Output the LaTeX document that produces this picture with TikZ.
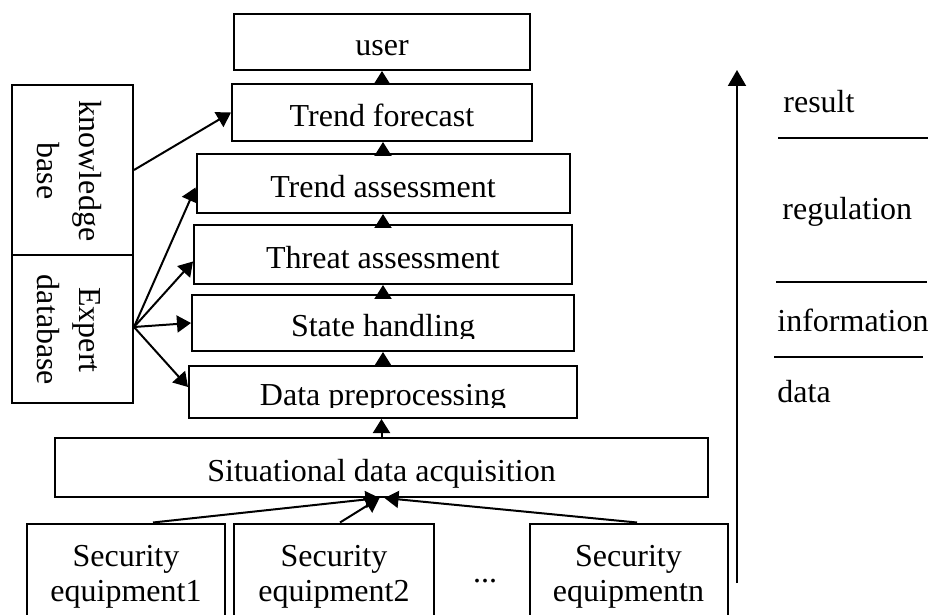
\documentclass[tikz,border=0pt]{standalone}
\usepackage{fontspec}
\setmainfont{Liberation Serif}
\usetikzlibrary{arrows.meta}

\tikzset{
  box/.style={draw, line width=1pt, inner sep=0pt, text height=14pt, text depth=0pt},
  plainbox/.style={draw, line width=1pt, inner sep=0pt},
  lbl/.style={inner sep=0pt, text height=10.6pt, text depth=0pt},
  arr/.style={line width=1pt, -{Triangle[width=8.5pt,length=7pt]}},
  bigarr/.style={line width=1pt, -{Triangle[width=9pt,length=8pt]}},
  sep/.style={line width=1pt},
}

\begin{document}
\begin{tikzpicture}[x=0.5pt, y=-0.5pt, font=\fontsize{16}{17.5}\selectfont]
\clip (0,0) rectangle (928,615);

% processing stack
\node[box, minimum width=148pt,   minimum height=28pt]   (user)     at (382,42)    {user};
\node[box, minimum width=150pt,   minimum height=28.5pt] (forecast) at (382,112.5) {Trend forecast};
\node[box, minimum width=186.5pt, minimum height=29.5pt] (tassess)  at (383,183.5) {Trend assessment};
\node[box, minimum width=189pt,   minimum height=29.5pt] (threat)   at (383,254.5) {Threat assessment};
\node[plainbox, minimum width=191pt, minimum height=28pt] (state)   at (383,323)   {};
\node[plainbox, minimum width=194pt, minimum height=26pt] (prep)    at (383,392)   {};
\node[box, minimum width=326.5pt, minimum height=29.5pt] (acq)      at (381.5,467.5) {Situational data acquisition};

% labels of the two lower stages, cut off at the baseline
\begin{scope}
  \clip (190,300) rectangle (576,338.5);
  \node[lbl] (statetxt) at (383,326) {State handling};
\end{scope}
\begin{scope}
  \clip (190,370) rectangle (576,407.5);
  \node[lbl] (preptxt) at (383,395) {Data preprocessing};
\end{scope}

% knowledge sources
\node[plainbox, minimum width=60.5pt, minimum height=85pt] (kb) at (72.5,170) {};
\node[plainbox, minimum width=60.5pt, minimum height=74pt] (ed) at (72.5,329) {};
\node[rotate=-90, align=center, font=\fontsize{16}{21}\selectfont] (kbtxt) at (69,171) {knowledge\\base};
\node[rotate=-90, align=center, font=\fontsize{16}{21}\selectfont] (edtxt) at (69,330) {Expert\\database};

% security equipment
\node[plainbox, minimum width=99pt,  minimum height=53pt, align=center] (sec1) at (126,576.5)   {Security\\equipment1};
\node[plainbox, minimum width=100pt, minimum height=53pt, align=center] (sec2) at (334,576.5)   {Security\\equipment2};
\node[plainbox, minimum width=99pt,  minimum height=53pt, align=center] (secn) at (628.5,576.5) {Security\\equipmentn};
\node[anchor=base, inner sep=0pt] (dots) at (485,582) {...};

% upward flow through the stack
\draw[arr] (forecast.north) -- (forecast.north |- user.south);
\draw[arr] (tassess.north)  -- (tassess.north |- forecast.south);
\draw[arr] (threat.north)   -- (threat.north |- tassess.south);
\draw[arr] (state.north)    -- (state.north |- threat.south);
\draw[arr] (prep.north)     -- (prep.north |- state.south);
\draw[arr] (acq.north)      -- (acq.north |- prep.south);

% equipment feeding the acquisition stage
\draw[arr] ([xshift=13.5pt]sec1.north) -- ([xshift=-1pt]acq.south);
\draw[arr] ([xshift=3pt]sec2.north)    -- ([xshift=-1pt]acq.south);
\draw[arr] ([xshift=4.25pt]secn.north) -- ([xshift=1.5pt]acq.south);

% knowledge links
\draw[arr] (kb.east) -- (forecast.west);
\draw[arr] ([yshift=1pt]ed.east) -- ([yshift=-2pt]tassess.west);
\draw[arr] ([yshift=1pt]ed.east) -- ([yshift=-3.5pt]threat.west);
\draw[arr] ([yshift=1pt]ed.east) -- (state.west);
\draw[arr] ([yshift=1pt]ed.east) -- ([yshift=2.5pt]prep.west);

% level axis
\coordinate (axisbot) at (737,583);
\coordinate (axistop) at (737,70);
\draw[bigarr] (axisbot) -- (axistop);

\node[anchor=base west, inner sep=0pt] (lres)  at (783,113) {result};
\node[anchor=base west, inner sep=0pt] (lreg)  at (782,220) {regulation};
\node[anchor=base west, inner sep=0pt] (linfo) at (777,332) {information};
\node[anchor=base west, inner sep=0pt] (ldata) at (777,402) {data};

\draw[sep] (778,138) -- (928,138);
\draw[sep] (776,282) -- (927,282);
\draw[sep] (774,357) -- (923,357);
\end{tikzpicture}
\end{document}
